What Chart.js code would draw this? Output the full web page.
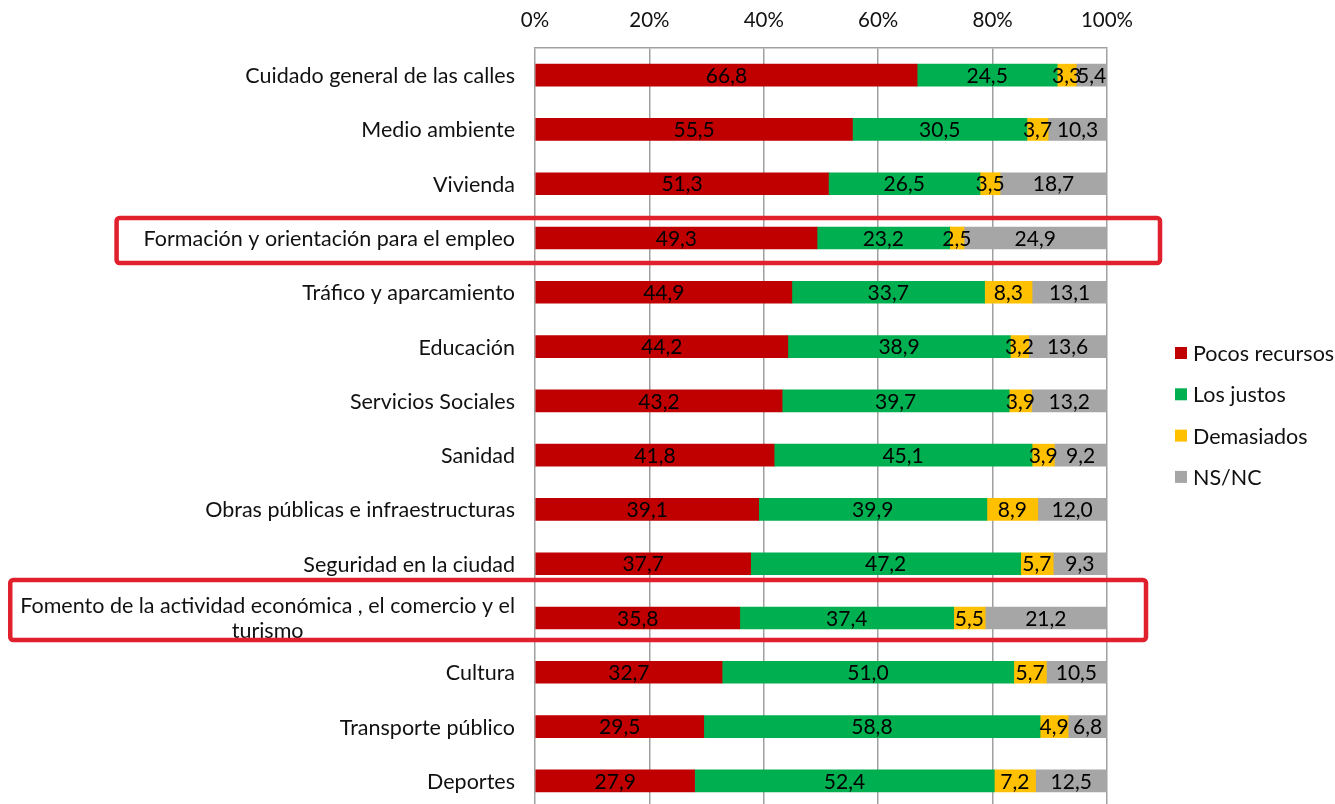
<!DOCTYPE html>
<html>
<head>
<meta charset="utf-8">
<script src="https://cdn.jsdelivr.net/npm/chart.js@4.4.1/dist/chart.umd.min.js"></script>
<style>
html,body{margin:0;padding:0;background:#fff;overflow:hidden;}
#wrap{position:relative;width:1335px;height:810px;}
</style>
</head>
<body>
<div id="wrap"><canvas id="c"></canvas></div>
<script>
const categories = [
  "Cuidado general de las calles",
  "Medio ambiente",
  "Vivienda",
  "Formación y orientación para el empleo",
  "Tráfico y aparcamiento",
  "Educación",
  "Servicios Sociales",
  "Sanidad",
  "Obras públicas e infraestructuras",
  "Seguridad en la ciudad",
  ["Fomento de la actividad económica , el comercio y el", "turismo"],
  "Cultura",
  "Transporte público",
  "Deportes"
];
const seriesNames = ["Pocos recursos", "Los justos", "Demasiados", "NS/NC"];
const pocosRecursos = [66.8, 55.5, 51.3, 49.3, 44.9, 44.2, 43.2, 41.8, 39.1, 37.7, 35.8, 32.7, 29.5, 27.9];
const losJustos     = [24.5, 30.5, 26.5, 23.2, 33.7, 38.9, 39.7, 45.1, 39.9, 47.2, 37.4, 51.0, 58.8, 52.4];
const demasiados    = [3.3, 3.7, 3.5, 2.5, 8.3, 3.2, 3.9, 3.9, 8.9, 5.7, 5.5, 5.7, 4.9, 7.2];
const nsnc          = [5.4, 10.3, 18.7, 24.9, 13.1, 13.6, 13.2, 9.2, 12.0, 9.3, 21.2, 10.5, 6.8, 12.5];
const tickValues = [0, 20, 40, 60, 80, 100];
const highlightedIdx = [3, 10];

const colors = ["#C00000", "#00B050", "#FFC000", "#A6A6A6"];
const FONT = "Lato, 'Open Sans', sans-serif";
const FS = 21.5;

const seriesValues = [pocosRecursos, losJustos, demasiados, nsnc];
const datasets = seriesValues.map((vals, i) => ({
  label: seriesNames[i],
  data: vals,
  backgroundColor: colors[i],
  borderWidth: 0,
  barThickness: 22
}));

const fmt = v => v.toFixed(1).replace('.', ',');

const customPlugin = {
  id: 'custom',
  afterDatasetsDraw(chart) {
    const ctx = chart.ctx;
    ctx.save();
    ctx.font = "21px " + FONT;
    ctx.fillStyle = "#000";
    ctx.textAlign = "center";
    ctx.textBaseline = "middle";
    chart.data.datasets.forEach((ds, di) => {
      const meta = chart.getDatasetMeta(di);
      meta.data.forEach((el, i) => {
        const v = ds.data[i];
        const cx = (el.x + el.base) / 2;
        ctx.fillText(fmt(v), cx, el.y + 1);
      });
    });
    ctx.restore();
  },
  afterDraw(chart) {
    const ctx = chart.ctx;
    const ys = chart.scales.y;
    const area = chart.chartArea;
    ctx.save();
    // category labels
    ctx.font = FS + "px " + FONT;
    ctx.fillStyle = "#111";
    ctx.textBaseline = "middle";
    const rightX = area.left - 20;
    const lineH = 25;
    const labelLeft = [];
    categories.forEach((lab, i) => {
      const y = ys.getPixelForValue(i);
      const lines = Array.isArray(lab) ? lab : [lab];
      const maxW = Math.max(...lines.map(l => ctx.measureText(l).width));
      const cx = rightX - maxW / 2;
      ctx.textAlign = "center";
      lines.forEach((l, k) => {
        const ly = y + (k - (lines.length - 1) / 2) * lineH + 1;
        ctx.fillText(l, cx, ly);
      });
      labelLeft[i] = { left: rightX - maxW, n: lines.length };
    });
    // highlight boxes
    ctx.strokeStyle = "#E0202C";
    ctx.lineWidth = 4.5;
    ctx.lineJoin = "round";
    highlightedIdx.forEach(i => {
      const y = ys.getPixelForValue(i);
      const info = labelLeft[i];
      let x0, x1, y0, y1;
      if (info.n === 1) {
        x0 = info.left - 27; x1 = area.right + 53; y0 = y - 20; y1 = y + 25;
      } else {
        x0 = info.left - 10; x1 = area.right + 39; y0 = y - 38; y1 = y + 22;
      }
      const r = 3;
      ctx.beginPath();
      ctx.moveTo(x0 + r, y0);
      ctx.arcTo(x1, y0, x1, y1, r);
      ctx.arcTo(x1, y1, x0, y1, r);
      ctx.arcTo(x0, y1, x0, y0, r);
      ctx.arcTo(x0, y0, x1, y0, r);
      ctx.closePath();
      ctx.stroke();
    });
    // legend
    ctx.font = FS + "px " + FONT;
    ctx.textAlign = "left";
    ctx.textBaseline = "middle";
    const lx = area.right + 68;
    const ly0 = 353;
    chart.data.datasets.forEach((ds, i) => {
      const yy = ly0 + i * 41.3;
      ctx.fillStyle = ds.backgroundColor;
      ctx.fillRect(lx, yy - 6, 12, 12);
      ctx.fillStyle = "#111";
      ctx.fillText(ds.label, lx + 18, yy + 1);
    });
    ctx.restore();
  }
};

new Chart(document.getElementById('c'), {
  type: 'bar',
  data: { labels: categories.map(c => Array.isArray(c) ? c.join(' ') : c), datasets },
  options: {
    indexAxis: 'y',
    responsive: true,
    maintainAspectRatio: false,
    animation: false,
    layout: { padding: { left: 0, right: 228, top: 0, bottom: 2 } },
    plugins: { legend: { display: false }, tooltip: { enabled: false } },
    scales: {
      x: {
        position: 'top',
        stacked: true,
        min: 0, max: 100,
        afterBuildTicks: s => { s.ticks = tickValues.map(v => ({ value: v })); },
        afterFit: s => { s.height = 48; },
        ticks: {
          font: { family: FONT, size: 20.5 },
          color: "#111",
          padding: 15,
          callback: v => v + '%'
        },
        grid: { color: "#A0A0A0", lineWidth: 1.5, drawTicks: false },
        border: { display: true, color: "#A0A0A0", width: 1.5 }
      },
      y: {
        stacked: true,
        afterFit: s => { s.width = 535; },
        ticks: { display: false },
        grid: { display: false },
        border: { display: false }
      }
    }
  },
  plugins: [customPlugin]
});
</script>
</body>
</html>
